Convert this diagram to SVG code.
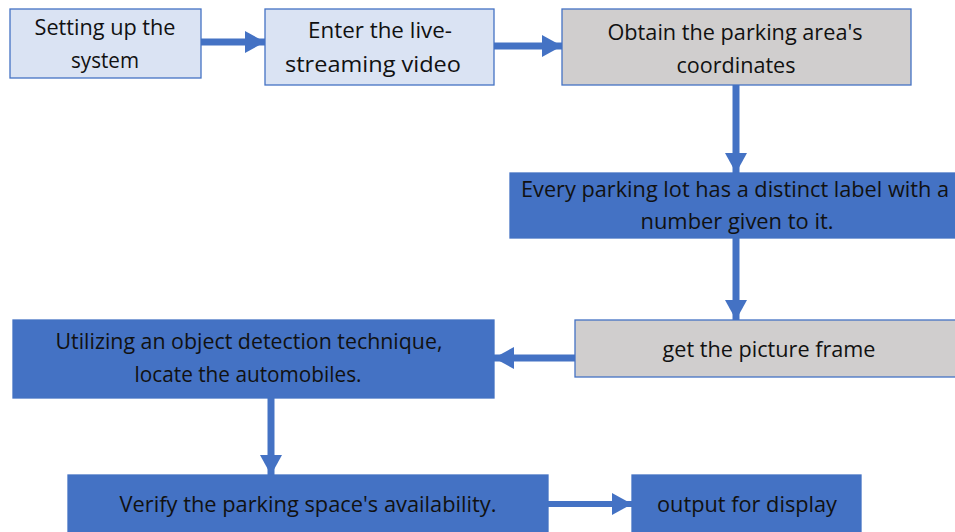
<svg xmlns="http://www.w3.org/2000/svg" width="955" height="532" viewBox="0 0 955 532">
<style>
.box{stroke:#4472c4;stroke-width:1.3}
.light{fill:#dae3f3}
.gray{fill:#d0cece}
.blue{fill:#4472c4}
text{font-family:"Open Sans","Liberation Sans",sans-serif;font-size:21px;fill:#111;text-anchor:middle}
.conn{stroke:#4472c4;stroke-width:7;fill:none}
</style>
<defs>
<marker id="ah" markerUnits="userSpaceOnUse" markerWidth="22" markerHeight="22" refX="20" refY="11" orient="auto" viewBox="0 0 22 22">
<path d="M0,0 L20,11 L0,22 Z" fill="#4472c4"/>
</marker>
</defs>
<g id="connectors">
<line class="conn" x1="201" y1="42" x2="265" y2="42" marker-end="url(#ah)"/>
<line class="conn" x1="494" y1="46" x2="562" y2="46" marker-end="url(#ah)"/>
<line class="conn" x1="736" y1="85" x2="736" y2="173" marker-end="url(#ah)"/>
<line class="conn" x1="736" y1="238" x2="736" y2="320" marker-end="url(#ah)"/>
<line class="conn" x1="575" y1="358" x2="494" y2="358" marker-end="url(#ah)"/>
<line class="conn" x1="271" y1="398" x2="271" y2="475" marker-end="url(#ah)"/>
<line class="conn" x1="548" y1="504" x2="632" y2="504" marker-end="url(#ah)" style="stroke-width:6"/>
</g>
<g id="n1"><rect class="box light" x="10" y="9" width="191" height="69"/>
<text x="105" y="35" textLength="141" lengthAdjust="spacingAndGlyphs">Setting up the</text>
<text x="105" y="68" textLength="68" lengthAdjust="spacingAndGlyphs">system</text></g>
<g id="n2"><rect class="box light" x="265" y="9" width="229" height="76"/>
<text x="380" y="38" textLength="144" lengthAdjust="spacingAndGlyphs">Enter the live-</text>
<text x="373" y="72" textLength="176" lengthAdjust="spacingAndGlyphs">streaming video</text></g>
<g id="n3"><rect class="box gray" x="562" y="9" width="349" height="76"/>
<text x="735" y="40" textLength="255" lengthAdjust="spacingAndGlyphs">Obtain the parking area's</text>
<text x="736" y="73" textLength="119" lengthAdjust="spacingAndGlyphs">coordinates</text></g>
<g id="n4"><rect class="box blue" x="510" y="173" width="446" height="65"/>
<text x="735" y="197" textLength="428" lengthAdjust="spacingAndGlyphs">Every parking lot has a distinct label with a</text>
<text x="737" y="229" textLength="193" lengthAdjust="spacingAndGlyphs">number given to it.</text></g>
<g id="n5"><rect class="box gray" x="575" y="320" width="381" height="57"/>
<text x="769" y="357" textLength="213" lengthAdjust="spacingAndGlyphs">get the picture frame</text></g>
<g id="n6"><rect class="box blue" x="13" y="320" width="481" height="78"/>
<text x="249" y="349" textLength="387" lengthAdjust="spacingAndGlyphs">Utilizing an object detection technique,</text>
<text x="248" y="382" textLength="227" lengthAdjust="spacingAndGlyphs">locate the automobiles.</text></g>
<g id="n7"><rect class="box blue" x="68" y="475" width="480" height="60"/>
<text x="308" y="512" textLength="377" lengthAdjust="spacingAndGlyphs">Verify the parking space's availability.</text></g>
<g id="n8"><rect class="box blue" x="632" y="475" width="229" height="60"/>
<text x="747" y="512" textLength="180" lengthAdjust="spacingAndGlyphs">output for display</text></g>
</svg>
